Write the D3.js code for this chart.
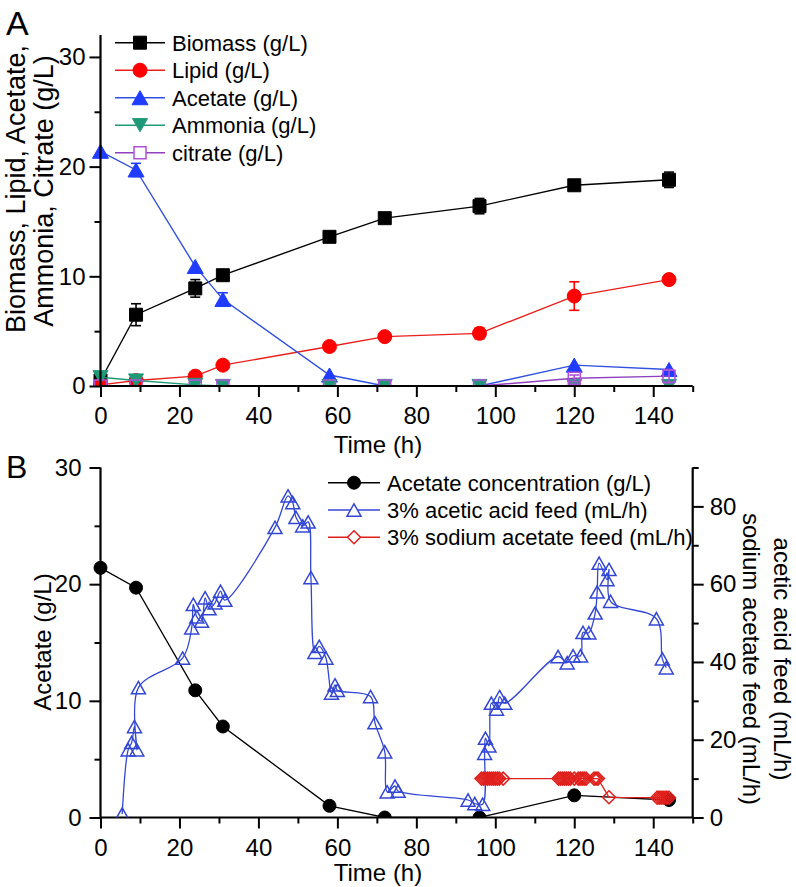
<!DOCTYPE html>
<html><head><meta charset="utf-8">
<script src="https://cdn.jsdelivr.net/npm/d3@7"></script>
<style>
body{margin:0;background:#fff}
svg{display:block}
text{font-family:"Liberation Sans",Arial,Helvetica,sans-serif;fill:#000}
</style></head>
<body><svg id="c" width="796" height="887"></svg>
<script>
// ---------------- Panel A data ----------------
const timeA      = [0, 9, 24, 31, 58, 72, 96, 120, 144];
const biomass    = [0.5, 6.5, 8.9, 10.1, 13.6, 15.3, 16.4, 18.3, 18.8];
const biomassErr = [0.1, 1.0, 0.8, 0.3, 0.3, 0.3, 0.7, 0.3, 0.7];
const lipid      = [0.1, 0.5, 0.9, 1.9, 3.6, 4.5, 4.8, 8.2, 9.7];
const lipidErr   = [0, 0, 0, 0, 0, 0, 0.5, 1.3, 0];
const acetateA   = [21.4, 19.7, 10.9, 7.9, 1.0, 0, 0, 1.9, 1.5];
const acetateErr = [0, 0.6, 0, 0.6, 0, 0, 0, 0, 0];
const ammonia    = [0.8, 0.5, 0.1, 0, 0, 0, 0, 0, 0];
const citrate    = [0, 0, 0, 0, 0, 0, 0, 0.7, 0.9];
const citrateErr = [0, 0, 0, 0, 0, 0, 0, 0.3, 0.6];
const legendA = ["Biomass (g/L)", "Lipid (g/L)", "Acetate (g/L)", "Ammonia (g/L)", "citrate (g/L)"];

// ---------------- Panel B data ----------------
const timeB    = [0, 9, 24, 31, 58, 72, 96, 120, 144];
const acetateB = [21.4, 19.7, 10.9, 7.8, 1.0, 0, 0, 1.9, 1.5];
const aceticFeedTime = [5.5, 7.0, 7.9, 8.6, 9.2, 9.6, 20.8, 23.1, 23.5, 24.4, 25.6, 26.5, 27.5, 29.0, 30.4, 31.5,
  44.2, 47.5, 48.7, 49.5, 51.2, 52.6, 53.3, 54.3, 55.4, 57.1, 58.5, 59.4, 60.0, 68.4, 69.5, 72.0, 72.6, 74.6, 75.4,
  93.1, 94.8, 96.8, 97.3, 97.5, 98.4, 99.0, 100.3, 101.1, 102.4, 115.9, 118.2, 119.7, 121.6, 122.2, 123.7, 125.3,
  125.8, 126.3, 128.3, 128.8, 129.2, 140.8, 142.3, 143.3];
const aceticFeed = [0.9, 17.4, 19.3, 23.4, 17.4, 33.4, 41.0, 48.8, 54.8, 51.6, 50.5, 56.5, 53.7, 55.2, 58.2, 55.9,
  74.6, 82.7, 81.0, 77.2, 75.0, 76.0, 61.7, 42.5, 44.0, 41.0, 32.0, 34.1, 32.7, 31.1, 24.4, 16.9, 6.6, 8.1, 6.8,
  4.5, 3.6, 3.4, 16.5, 20.4, 18.4, 29.4, 27.9, 31.1, 29.4, 41.4, 39.8, 41.6, 41.6, 47.6, 47.5, 52.6,
  58.0, 65.4, 61.2, 63.8, 55.6, 51.1, 40.8, 38.5];
const sodiumFeedTime = [96.5, 97, 97.5, 98, 98.5, 99, 99.5, 100, 100.5, 101, 102,
  116, 116.5, 117, 117.5, 118, 118.5, 119, 120, 121, 121.5, 122, 122.5, 123, 125, 125.5, 126,
  128.8, 141, 141.5, 142, 142.5, 143, 143.5, 144];
const sodiumFeed = [10, 10, 10, 10, 10, 10, 10, 10, 10, 10, 10,
  10, 10, 10, 10, 10, 10, 10, 10, 10, 10, 10, 10, 10, 10, 10, 10,
  5.2, 5.1, 5.1, 5.1, 5.1, 5.1, 5.1, 5.1];
const legendB = ["Acetate concentration (g/L)", "3% acetic acid feed (mL/h)", "3% sodium acetate feed (mL/h)"];

const xMajor = [0, 20, 40, 60, 80, 100, 120, 140];
const xMinor = [10, 30, 50, 70, 90, 110, 130, 150];

// ---------------- helpers ----------------
const svg = d3.select("#c");
const FONT_TICK = 24;

function marker(type, s) {
  const h = s / 2;
  switch (type) {
    case "square": return `M${-h},${-h}h${s}v${s}h${-s}Z`;
    case "circle": return `M${-h},0a${h},${h} 0 1,0 ${s},0a${h},${h} 0 1,0 ${-s},0Z`;
    case "triUp": { const th = s * 0.88; return `M0,${-th/2}L${h},${th/2}L${-h},${th/2}Z`; }
    case "triDown": { const th = s * 0.88; return `M0,${th/2}L${h},${-th/2}L${-h},${-th/2}Z`; }
    case "diamond": return `M0,${-h}L${h},0L0,${h}L${-h},0Z`;
  }
}

function drawXAxis(g, x, y0) {
  const ax = g.append("g").attr("transform", `translate(0,${y0})`);
  ax.call(d3.axisBottom(x).tickValues(xMajor).tickSize(11).tickPadding(10).tickFormat(d3.format("d")));
  const mn = g.append("g").attr("transform", `translate(0,${y0})`);
  mn.call(d3.axisBottom(x).tickValues(xMinor).tickSize(6).tickFormat(""));
  [ax, mn].forEach(a => {
    a.select(".domain").attr("stroke", "#000").attr("stroke-width", 2.2);
    a.selectAll(".tick line").attr("stroke", "#000").attr("stroke-width", 2);
    a.selectAll("text").attr("font-size", FONT_TICK).attr("font-family", "Liberation Sans, Arial, sans-serif").attr("fill", "#000");
  });
  mn.select(".domain").remove();
  ax.select(".domain").attr("d", `M${x.range()[0]},0H${x.range()[1]}`);
}

function drawYAxis(g, y, x0, major, minor, side, pad) {
  const gen = side === "left" ? d3.axisLeft : d3.axisRight;
  const ax = g.append("g").attr("transform", `translate(${x0},0)`);
  ax.call(gen(y).tickValues(major).tickSize(11).tickPadding(pad).tickFormat(d3.format("d")));
  const mn = g.append("g").attr("transform", `translate(${x0},0)`);
  mn.call(gen(y).tickValues(minor).tickSize(6).tickFormat(""));
  [ax, mn].forEach(a => {
    a.select(".domain").attr("stroke", "#000").attr("stroke-width", 2.2);
    a.selectAll(".tick line").attr("stroke", "#000").attr("stroke-width", 2);
    a.selectAll("text").attr("font-size", FONT_TICK).attr("font-family", "Liberation Sans, Arial, sans-serif").attr("fill", "#000");
  });
  mn.select(".domain").remove();
  ax.select(".domain").attr("d", `M0,${y.range()[0]}V${y.range()[1]}`);
}

function series(g, x, y, xs, ys, opt) {
  const pts = xs.map((t, i) => [t, ys[i], opt.err ? opt.err[i] : 0]);
  const line = d3.line().x(d => x(d[0])).y(d => y(d[1]));
  if (opt.curve) line.curve(opt.curve);
  g.append("path").datum(pts).attr("d", line).attr("fill", "none")
    .attr("stroke", opt.lineColor).attr("stroke-width", opt.lw || 1.4);
  if (opt.err) {
    const eb = g.append("g").attr("stroke", opt.color).attr("stroke-width", 1.6);
    pts.filter(d => d[2] > 0).forEach(d => {
      const cx = x(d[0]), y1 = y(d[1] + d[2]), y2 = y(d[1] - d[2]);
      eb.append("line").attr("x1", cx).attr("x2", cx).attr("y1", y1).attr("y2", y2);
      eb.append("line").attr("x1", cx - 5).attr("x2", cx + 5).attr("y1", y1).attr("y2", y1);
      eb.append("line").attr("x1", cx - 5).attr("x2", cx + 5).attr("y1", y2).attr("y2", y2);
    });
  }
  g.append("g").selectAll("path").data(pts).join("path")
    .attr("transform", d => `translate(${x(d[0])},${y(d[1])})`)
    .attr("d", marker(opt.shape, opt.size))
    .attr("fill", opt.open ? "#fff" : opt.color)
    .attr("fill-opacity", opt.open ? 0 : 1)
    .attr("stroke", opt.color).attr("stroke-width", opt.open ? 1.5 : 1);
}

function legend(g, items, x0, y0, dy, lineLen, fs) {
  items.forEach((it, i) => {
    const yy = y0 + i * dy;
    g.append("line").attr("x1", x0).attr("x2", x0 + lineLen).attr("y1", yy).attr("y2", yy)
      .attr("stroke", it.lineColor).attr("stroke-width", 1.4);
    g.append("path").attr("transform", `translate(${x0 + lineLen / 2},${yy})`)
      .attr("d", marker(it.shape, it.size))
      .attr("fill", it.open ? "#fff" : it.color).attr("stroke", it.color)
      .attr("stroke-width", it.open ? 1.5 : 1);
    g.append("text").attr("x", x0 + lineLen + 7).attr("y", yy + 8).attr("font-size", fs).text(it.label);
  });
}

// ---------------- Panel A ----------------
const xA = d3.scaleLinear().domain([0, 150]).range([100.5, 692.7]);
const yA = d3.scaleLinear().domain([0, 32]).range([386, 35]);

svg.append("defs").html(
  `<clipPath id="clipA"><rect x="60" y="0" width="680" height="386"/></clipPath>
   <clipPath id="clipB"><rect x="60" y="430" width="680" height="387.5"/></clipPath>`);

const gA = svg.append("g");
svg.append("text").attr("x", 6).attr("y", 35).attr("font-size", 34).text("A");

const plotA = gA.append("g").attr("clip-path", "url(#clipA)");
const specA = [
  {label: legendA[0], ys: biomass, err: biomassErr, color: "#000", lineColor: "#000", shape: "square", size: 13},
  {label: legendA[1], ys: lipid, err: lipidErr, color: "#ff0000", lineColor: "#e8201c", shape: "circle", size: 14},
  {label: legendA[2], ys: acetateA, err: acetateErr, color: "#1f3cff", lineColor: "#3050e0", shape: "triUp", size: 16},
  {label: legendA[3], ys: ammonia, err: null, color: "#1e9a78", lineColor: "#1e9a78", shape: "triDown", size: 15},
  {label: legendA[4], ys: citrate, err: citrateErr, color: "#b050d8", lineColor: "#9040c0", shape: "square", size: 12, open: true}
];
drawXAxis(gA, xA, 386);
drawYAxis(gA, yA, 100.5, [0, 10, 20, 30], [5, 15, 25], "left", 4);
specA.forEach(s => series(plotA, xA, yA, timeA, s.ys, s));

legend(gA, specA, 115, 42.7, 27.5, 50, 22);

gA.append("text").attr("x", 378).attr("y", 453).attr("text-anchor", "middle").attr("font-size", 24).text("Time (h)");
gA.append("text").attr("transform", "translate(25,189) rotate(-90)").attr("text-anchor", "middle")
  .attr("font-size", 27).text("Biomass, Lipid, Acetate,");
gA.append("text").attr("transform", "translate(53,191) rotate(-90)").attr("text-anchor", "middle")
  .attr("font-size", 27).text("Ammonia, Citrate (g/L)");

// ---------------- Panel B ----------------
const xB = d3.scaleLinear().domain([0, 150]).range([100.5, 692.7]);
const yB = d3.scaleLinear().domain([0, 30]).range([817.5, 467.5]);
const yB2 = d3.scaleLinear().domain([0, 90]).range([817.5, 467.5]);

const gB = svg.append("g");
svg.append("text").attr("x", 6).attr("y", 478).attr("font-size", 32).text("B");

drawXAxis(gB, xB, 817.5);
drawYAxis(gB, yB, 100.5, [0, 10, 20, 30], [5, 15, 25], "left", 8);
drawYAxis(gB, yB2, 692.7, [0, 20, 40, 60, 80], [10, 30, 50, 70, 90], "right", 6);

const plotB = gB.append("g").attr("clip-path", "url(#clipB)");
const specB = [
  {label: legendB[0], color: "#000", lineColor: "#000", shape: "circle", size: 13},
  {label: legendB[1], color: "#3347d4", lineColor: "#3347d4", shape: "triUp", size: 14, open: true},
  {label: legendB[2], color: "#e0201c", lineColor: "#e0201c", shape: "diamond", size: 13, open: true}
];
series(plotB, xB, yB, timeB, acetateB, Object.assign({lw: 1.3}, specB[0]));
series(plotB, xB, yB2, aceticFeedTime, aceticFeed, Object.assign({lw: 1.3, curve: d3.curveCatmullRom.alpha(0.5)}, specB[1]));
series(plotB, xB, yB2, sodiumFeedTime, sodiumFeed, Object.assign({lw: 1.3}, specB[2]));

legend(gB, specB, 328, 482.7, 27.3, 52, 22);

gB.append("text").attr("x", 378).attr("y", 881).attr("text-anchor", "middle").attr("font-size", 24).text("Time (h)");
gB.append("text").attr("transform", "translate(51,642) rotate(-90)").attr("text-anchor", "middle")
  .attr("font-size", 24).text("Acetate (g/L)");
gB.append("text").attr("transform", "translate(743,659) rotate(90)").attr("text-anchor", "middle")
  .attr("font-size", 24).text("sodium acetate feed (mL/h)");
gB.append("text").attr("transform", "translate(774,659) rotate(90)").attr("text-anchor", "middle")
  .attr("font-size", 24).text("acetic acid feed (mL/h)");
</script></body></html>
